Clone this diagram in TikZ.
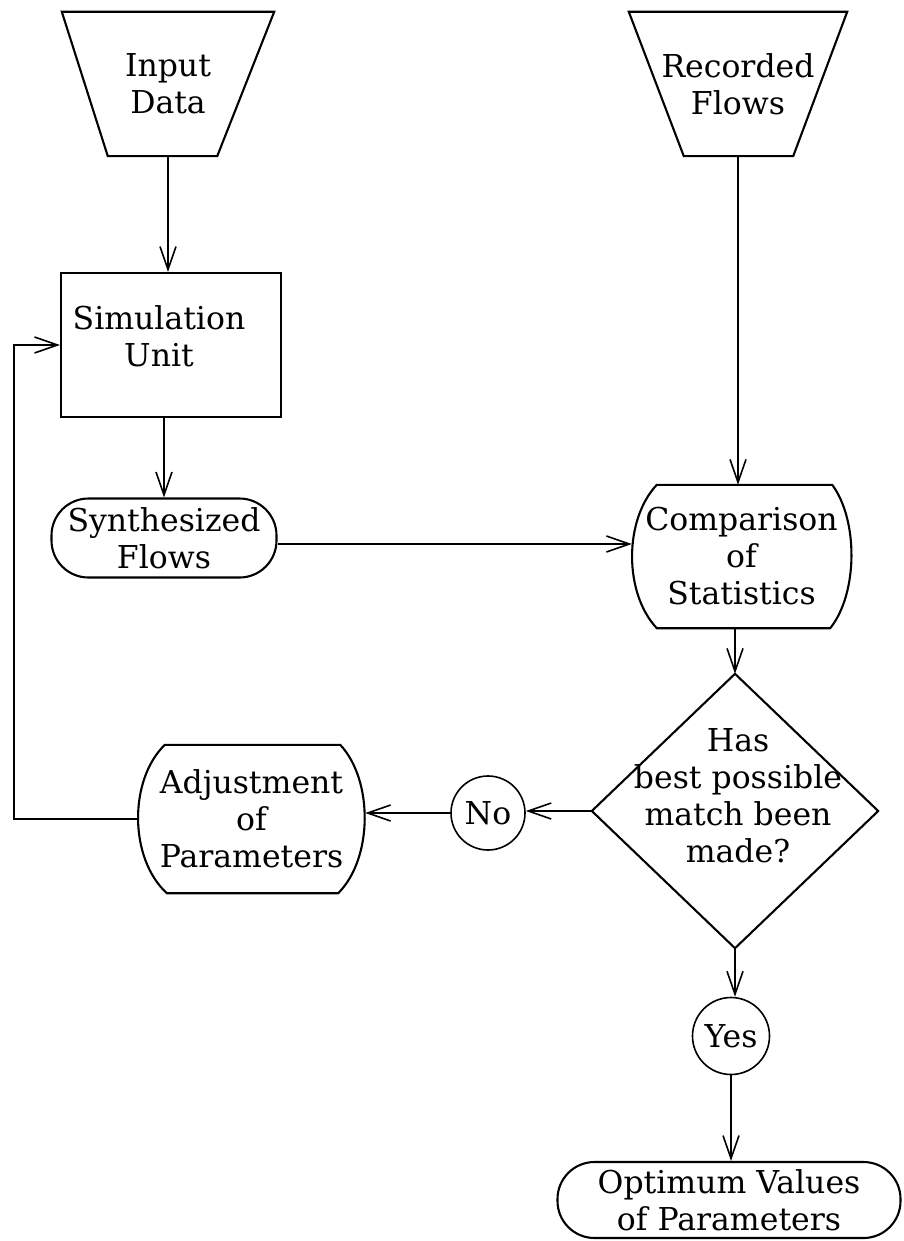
\documentclass[tikz,border=0pt]{standalone}
\usepackage{fontspec}
\setmainfont{DejaVu Serif}
\usetikzlibrary{arrows.meta,calc}
\begin{document}
\begin{tikzpicture}[x=1pt,y=-1pt,
  lbl/.style={align=center,font=\fontsize{31.5}{37}\selectfont,inner sep=0pt},
  frame/.style={line width=2.1pt},
  conn/.style={line width=1.6pt,-{Straight Barb[length=23pt,width=16pt,line width=1.6pt]}},
  holder/.style={lbl,draw=none,rectangle},
  stadium/.style={lbl,draw,frame,rectangle,rounded corners=37pt},
  ring/.style={lbl,draw,line width=1.6pt,circle}
]
\useasboundingbox (0,0) rectangle (903,1241);

% Input Data
\node[holder,minimum width=212pt,minimum height=144pt] (inp) at (168,84) {Input\\Data};
\draw[frame] (inp.north west) -- (inp.north east) -- ([xshift=-57pt]inp.south east) -- ([xshift=46pt]inp.south west) -- cycle;

% Recorded Flows
\node[holder,minimum width=218pt,minimum height=144pt] (rec) at (738,84) {Recorded\\Flows};
\draw[frame] (rec.north west) -- (rec.north east) -- ([xshift=-54pt]rec.south east) -- ([xshift=55pt]rec.south west) -- cycle;

% Simulation Unit
\node[draw,frame,rectangle,minimum width=220pt,minimum height=144pt,inner sep=0pt] (sim) at (171,345) {};
\node[lbl] (simtext) at (159,336) {Simulation\\Unit};

% Synthesized Flows
\node[stadium,minimum width=225pt,minimum height=79pt] (syn) at (164,538) {Synthesized\\Flows};

% Comparison of Statistics
\node[holder,minimum width=219pt,minimum height=143pt] (cmp) at (741.5,556.5) {Comparison\\of\\Statistics};
\draw[frame] ([xshift=25pt]cmp.north west) -- ([xshift=-19pt]cmp.north east)
  .. controls ($(cmp.north east)+(7,35)$) and ($(cmp.south east)+(7,-35)$) .. ([xshift=-21pt]cmp.south east)
  -- ([xshift=25pt]cmp.south west)
  .. controls ($(cmp.south west)+(-8,-35)$) and ($(cmp.north west)+(-8,35)$) .. cycle;

% Decision diamond
\node[holder,minimum width=286pt,minimum height=274pt] (d) at (735,811) {};
\draw[frame] (d.north) -- (d.east) -- (d.south) -- (d.west) -- cycle;
\node[lbl] (dtext) at (738,796) {Has\\best possible\\match been\\made?};

% No / Yes
\node[ring,minimum size=74pt] (no) at (488,813) {No};
\node[ring,minimum size=77pt] (yes) at (731,1036) {Yes};

% Adjustment of Parameters
\node[holder,minimum width=227pt,minimum height=148pt] (adj) at (251.5,819) {Adjustment\\of\\Parameters};
\draw[frame] ([xshift=27pt]adj.north west) -- ([xshift=-25pt]adj.north east)
  .. controls ($(adj.north east)+(8,35)$) and ($(adj.south east)+(8,-35)$) .. ([xshift=-27pt]adj.south east)
  -- ([xshift=29pt]adj.south west)
  .. controls ($(adj.south west)+(-9,-35)$) and ($(adj.north west)+(-9,35)$) .. cycle;

% Optimum Values
\node[stadium,minimum width=343pt,minimum height=76pt] (opt) at (729,1200) {Optimum Values\\of Parameters};

% Connectors
\draw[conn] (inp.south) -- (inp.south |- sim.north);
\draw[conn] (sim.south -| syn.north) -- (syn.north);
\draw[conn] ([yshift=-6pt]syn.east) -- ([yshift=-6pt]syn.east -| cmp.west);
\draw[conn] (rec.south) -- (rec.south |- cmp.north);
\draw[conn] (d.north |- cmp.south) -- (d.north);
\draw[conn] (d.west) -- (d.west -| no.east);
\draw[conn,line width=2.4pt] (no.west) -- (no.west -| adj.east);
\coordinate (fb) at (14,0);
\draw[conn] (adj.west) -| (fb |- sim.west) -- (sim.west);
\draw[conn] (d.south) -- (d.south |- yes.north);
\draw[conn] (yes.south) -- (yes.south |- opt.north);
\end{tikzpicture}
\end{document}
